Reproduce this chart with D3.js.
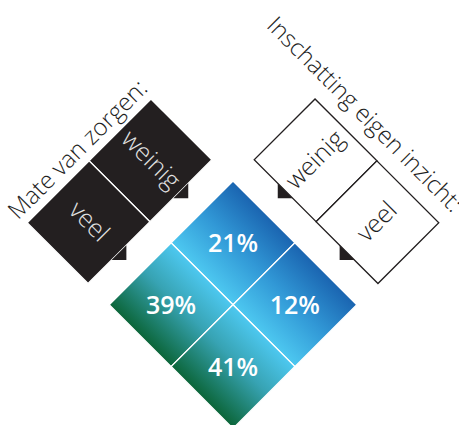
<!DOCTYPE html>
<html>
<head>
<meta charset="utf-8">
<script src="https://cdnjs.cloudflare.com/ajax/libs/d3/7.8.5/d3.min.js"></script>
<style>
    body { margin: 0; background: white; }
    text { font-family: "Open Sans", sans-serif; }
</style>
</head>
<body>
<div id="chart"></div>
<script>
//Categories of both questions and the share of respondents in each combination.
const zorgenLevels = ["weinig", "veel"];      //Mate van zorgen
const inzichtLevels = ["weinig", "veel"];     //Inschatting eigen inzicht
const cellZorgen = ["weinig", "weinig", "veel", "veel"];
const cellInzicht = ["weinig", "veel", "weinig", "veel"];
const cellValues = [21, 12, 39, 41];
const zorgenTitle = "Mate van zorgen:";
const inzichtTitle = "Inschatting eigen inzicht:";

const width = 459;
const height = 425;
const side = 175;        //side of the square matrix
const gap = 30;          //space between matrix and legend strips
const stripWidth = 86;
const tab = 10.5;
const dark = "#1e1e1e";

const svg = d3.select("#chart").append("svg")
    .attr("width", width)
    .attr("height", height);

//Gradient running from the blue upper-right side to the green lower-left side.
const grad = svg.append("defs").append("linearGradient")
    .attr("id", "cellGradient")
    .attr("gradientUnits", "userSpaceOnUse")
    .attr("x1", 0).attr("y1", 0)
    .attr("x2", 0).attr("y2", side);
[[0, "#1a64b0"], [0.25, "#3198d6"], [0.5, "#4dc8f0"], [0.72, "#37a3b3"], [1, "#0b6538"]].forEach((s) => {
    grad.append("stop").attr("offset", s[0]).attr("stop-color", s[1]);
});

//Everything is drawn in a frame turned 45 degrees, origin on the top corner of the diamond.
const g = svg.append("g")
    .attr("transform", "translate(233, 181) rotate(45)");

const xScale = d3.scaleBand().domain(inzichtLevels).range([0, side]);
const yScale = d3.scaleBand().domain(zorgenLevels).range([0, side]);
const bw = xScale.bandwidth();

const cells = cellValues.map((v, i) => ({ zorgen: cellZorgen[i], inzicht: cellInzicht[i], value: v }));

g.selectAll("rect.cell")
    .data(cells)
    .enter().append("rect")
    .attr("class", "cell")
    .attr("x", d => xScale(d.inzicht))
    .attr("y", d => yScale(d.zorgen))
    .attr("width", bw)
    .attr("height", yScale.bandwidth())
    .attr("fill", "url(#cellGradient)")
    .attr("stroke", "white")
    .attr("stroke-width", 1.3);

g.selectAll("text.value")
    .data(cells)
    .enter().append("text")
    .attr("class", "value")
    .attr("transform", d => "translate(" + (xScale(d.inzicht) + bw / 2) + "," + (yScale(d.zorgen) + bw / 2) + ") rotate(-45)")
    .attr("text-anchor", "middle")
    .attr("dy", "0.36em")
    .attr("fill", "white")
    .style("font-size", "25px")
    .style("font-weight", 600)
    .text(d => d.value + "%");

//Legend strip for "Mate van zorgen" (black, along the upper-left side)
const zStrip = g.append("g");
zStrip.selectAll("rect")
    .data(zorgenLevels)
    .enter().append("rect")
    .attr("x", -gap - stripWidth)
    .attr("y", d => yScale(d))
    .attr("width", stripWidth)
    .attr("height", yScale.bandwidth())
    .attr("fill", "#231f20")
    .attr("stroke", "white")
    .attr("stroke-width", 1.3);
zStrip.selectAll("path")
    .data(zorgenLevels)
    .enter().append("path")
    .attr("fill", "#231f20")
    .attr("d", d => {
        const c = yScale(d) + bw / 2;
        return "M" + (-gap) + "," + (c - tab) + "L" + (-gap + tab) + "," + c + "L" + (-gap) + "," + (c + tab) + "Z";
    });
zStrip.selectAll("text")
    .data(zorgenLevels)
    .enter().append("text")
    .attr("x", -gap - stripWidth / 2)
    .attr("y", d => yScale(d) + bw / 2)
    .attr("dy", "0.3em")
    .attr("text-anchor", "middle")
    .attr("fill", "#e2e2e2")
    .style("font-size", "25px")
    .style("font-weight", 300)
    .text(d => d);
g.append("text")
    .attr("transform", "translate(" + (-gap - stripWidth - 8) + "," + (side / 2) + ") rotate(-90)")
    .attr("text-anchor", "middle")
    .attr("fill", dark)
    .style("font-size", "24px")
    .style("font-weight", 300)
    .text(zorgenTitle);

//Legend strip for "Inschatting eigen inzicht" (white, along the upper-right side)
const iStrip = g.append("g");
iStrip.selectAll("rect")
    .data(inzichtLevels)
    .enter().append("rect")
    .attr("x", d => xScale(d))
    .attr("y", -gap - stripWidth)
    .attr("width", bw)
    .attr("height", stripWidth)
    .attr("fill", "white")
    .attr("stroke", "#231f20")
    .attr("stroke-width", 1.3);
iStrip.selectAll("path")
    .data(inzichtLevels)
    .enter().append("path")
    .attr("fill", "#231f20")
    .attr("d", d => {
        const c = xScale(d) + bw / 2;
        return "M" + (c - tab) + "," + (-gap) + "L" + c + "," + (-gap + tab) + "L" + (c + tab) + "," + (-gap) + "Z";
    });
iStrip.selectAll("text")
    .data(inzichtLevels)
    .enter().append("text")
    .attr("transform", d => "translate(" + (xScale(d) + bw / 2) + "," + (-gap - stripWidth / 2) + ") rotate(-90)")
    .attr("dy", "0.3em")
    .attr("text-anchor", "middle")
    .attr("fill", dark)
    .style("font-size", "25px")
    .style("font-weight", 300)
    .text(d => d);
g.append("text")
    .attr("x", side + 3)
    .attr("y", -gap - stripWidth - 16)
    .attr("text-anchor", "end")
    .attr("fill", dark)
    .style("font-size", "24px")
    .style("font-weight", 300)
    .text(inzichtTitle);
</script>
</body>
</html>
